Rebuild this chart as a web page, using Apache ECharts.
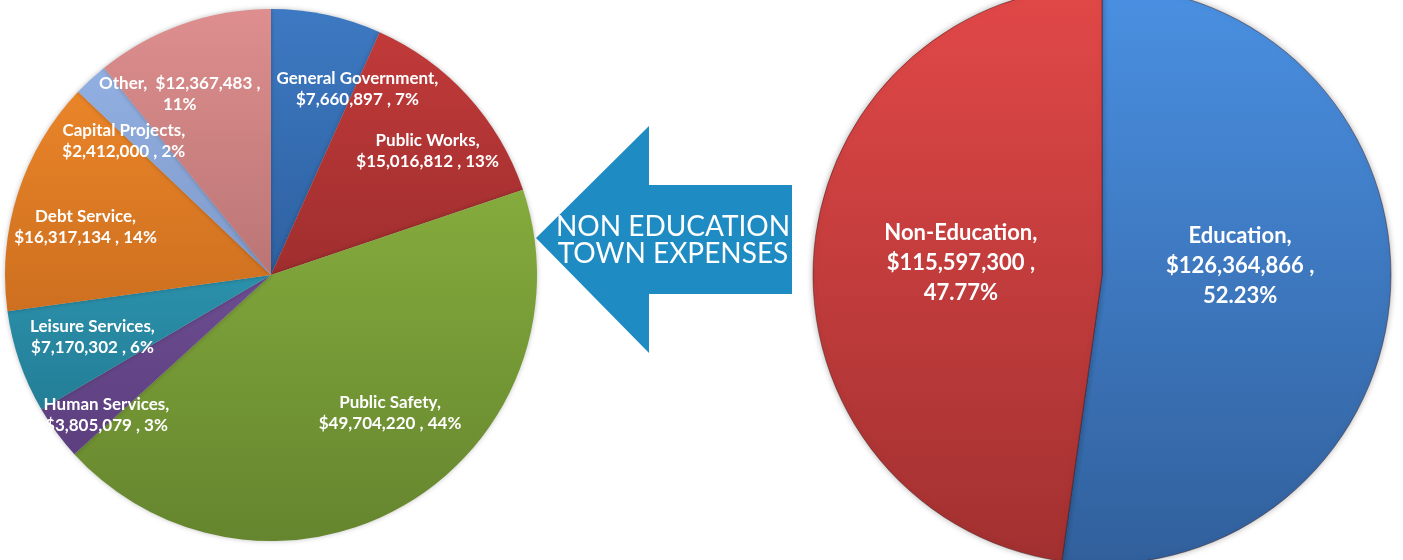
<!DOCTYPE html>
<html>
<head>
<meta charset="utf-8">
<title>Town Expenses</title>
<script src="https://cdn.jsdelivr.net/npm/echarts@6/dist/echarts.min.js"></script>
<style>
  html, body { margin: 0; padding: 0; background: #fff; }
  #chart { width: 1403px; height: 560px; }
</style>
</head>
<body>
<div id="chart"></div>
<script>
// non education breakdown (left pie), clockwise from 12 o'clock
const townCategories = ['General Government', 'Public Works', 'Public Safety', 'Human Services',
  'Leisure Services', 'Debt Service', 'Capital Projects', 'Other'];
const townValues = [7660897, 15016812, 49704220, 3805079, 7170302, 16317134, 2412000, 12367483];

// total budget split (right pie)
const budgetCategories = ['Education', 'Non-Education'];
const budgetValues = [126364866, 115597300];

// colours: [top, bottom] of the vertical shading
const townColors = [
  ['#3d79c2', '#1f4980'],
  ['#c43b3b', '#7c2121'],
  ['#95bf45', '#65852e'],
  ['#8262ac', '#553876'],
  ['#39b6d4', '#1d6b82'],
  ['#f48c2c', '#b05a16'],
  ['#97b5e8', '#6880ae'],
  ['#de8e8e', '#985c5c']
];
const budgetColors = [
  ['#4a90e2', '#31609c'],
  ['#e24848', '#a23030']
];

// label nudges so the text sits where the original puts it
const labelShift = {
  'General Government': [58, -53],
  'Public Works': [56, -32],
  'Public Safety': [50, 21],
  'Human Services': [-55, 59],
  'Leisure Services': [-50, 18],
  'Debt Service': [-56, -6],
  'Capital Projects': [-55, -34],
  'Other': [-46, -53],
  'Education': [-9, -19],
  'Non-Education': [6, -2]
};

const leftPie = { cx: 271, cy: 275, r: 266 };
const rightPie = { cx: 1102, cy: 275, r: 289 };

function money(v) {
  return '$' + v.toLocaleString('en-US');
}

function shade(pair, pie) {
  return new echarts.graphic.LinearGradient(0, pie.cy - pie.r, 0, pie.cy + pie.r, [
    { offset: 0, color: pair[0] },
    { offset: 1, color: pair[1] }
  ], true);
}

let chart = echarts.init(document.getElementById('chart'), null, { renderer: 'canvas' });

let townData = townCategories.map((name, i) => ({
  name: name,
  value: townValues[i],
  itemStyle: { color: shade(townColors[i], leftPie) },
  label: { offset: labelShift[name] }
}));

let budgetData = budgetCategories.map((name, i) => ({
  name: name,
  value: budgetValues[i],
  itemStyle: { color: shade(budgetColors[i], rightPie) },
  label: { offset: labelShift[name] }
}));

let option = {
  animation: false,
  backgroundColor: '#ffffff',
  series: [
    {
      type: 'pie',
      center: [leftPie.cx, leftPie.cy],
      radius: [0, leftPie.r],
      startAngle: 90,
      percentPrecision: 0,
      silent: true,
      itemStyle: {
        borderWidth: 0,
        shadowBlur: 5,
        shadowColor: 'rgba(0,0,0,0.25)'
      },
      label: {
        position: 'inside',
        color: '#ffffff',
        fontFamily: 'Lato',
        fontWeight: 'bold',
        fontSize: 17,
        lineHeight: 21,
        formatter: p => {
          if (p.name === 'Other') {
            return p.name + ',  ' + money(p.value) + ' ,\n' + p.percent + '%';
          }
          return p.name + ',\n' + money(p.value) + ' , ' + p.percent + '%';
        }
      },
      labelLine: { show: false },
      data: townData
    },
    {
      type: 'pie',
      center: [rightPie.cx, rightPie.cy],
      radius: [0, rightPie.r],
      startAngle: 90,
      percentPrecision: 2,
      silent: true,
      itemStyle: {
        borderWidth: 1,
        borderColor: 'rgba(60,20,20,0.45)',
        shadowBlur: 6,
        shadowColor: 'rgba(0,0,0,0.3)'
      },
      label: {
        position: 'inside',
        color: '#ffffff',
        fontFamily: 'Lato',
        fontWeight: 'bold',
        fontSize: 22,
        lineHeight: 30,
        formatter: p => p.name + ',\n' + money(p.value) + ' ,\n' + p.percent + '%'
      },
      labelLine: { show: false },
      data: budgetData
    }
  ],
  graphic: [
    {
      type: 'group',
      children: [
        {
          type: 'polygon',
          shape: {
            points: [[536, 238], [649, 126], [649, 185], [792, 185], [792, 294], [649, 294], [649, 353]]
          },
          style: { fill: '#1e8bc3' }
        },
        {
          type: 'text',
          x: 673,
          y: 240,
          style: {
            text: 'NON EDUCATION\nTOWN EXPENSES',
            fill: '#ffffff',
            font: '28px Lato',
            lineHeight: 27,
            align: 'center',
            verticalAlign: 'middle'
          }
        }
      ]
    }
  ]
};

chart.setOption(option);
window.addEventListener('resize', chart.resize);
</script>
</body>
</html>
